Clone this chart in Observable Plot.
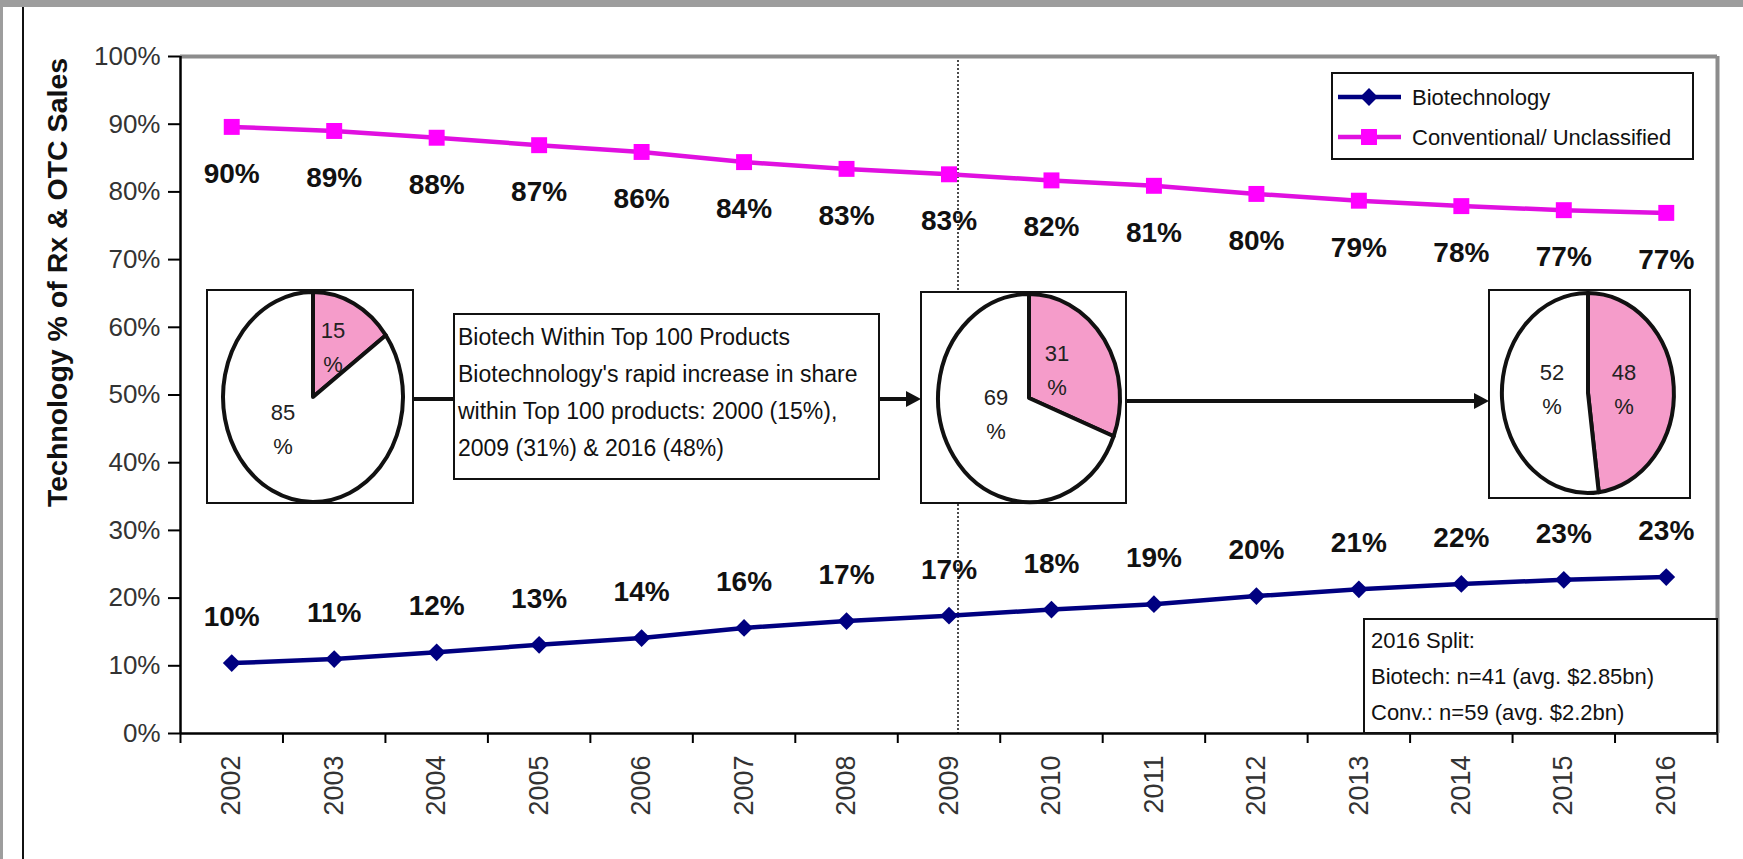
<!DOCTYPE html>
<html>
<head>
<meta charset="utf-8">
<script src="https://cdn.jsdelivr.net/npm/d3@7"></script>
<script src="https://cdn.jsdelivr.net/npm/@observablehq/plot@0.6"></script>
<style>
  html, body { margin: 0; padding: 0; background: #fff; }
  #chart svg { display: block; }
</style>
</head>
<body>
<div id="chart"></div>
<script>
// ---- data ----
const years = [2002, 2003, 2004, 2005, 2006, 2007, 2008, 2009, 2010, 2011, 2012, 2013, 2014, 2015, 2016];
const biotechShare      = [0.104, 0.110, 0.120, 0.131, 0.141, 0.156, 0.166, 0.174, 0.183, 0.191, 0.203, 0.213, 0.221, 0.227, 0.231];
const conventionalShare = [0.896, 0.890, 0.880, 0.869, 0.859, 0.844, 0.834, 0.826, 0.817, 0.809, 0.797, 0.787, 0.779, 0.773, 0.769];
const yTicks = [0, 0.1, 0.2, 0.3, 0.4, 0.5, 0.6, 0.7, 0.8, 0.9, 1.0];
const seriesNames = ["Biotechnology", "Conventional/ Unclassified"];
const yTitle = "Technology % of Rx & OTC Sales";

// share of biotech within the top 100 products
const pieYears = [2000, 2009, 2016];
const pieBiotechShare = [0.15, 0.31, 0.48];

const noteLines = [
  "Biotech Within Top 100 Products",
  "Biotechnology's rapid increase in share",
  "within Top 100 products: 2000 (15%),",
  "2009 (31%) & 2016 (48%)"
];
const splitLines = [
  "2016 Split:",
  "Biotech: n=41 (avg. $2.85bn)",
  "Conv.: n=59 (avg. $2.2bn)"
];

// ---- styling ----
const FONT = '"Liberation Sans", Arial, Helvetica, sans-serif';
const NAVY = "#000080";
const MAGENTA = "#ff00ff";
const MAGENTA_LINE = "#e010e0";
const PINK = "#f59cca";
const pct = d3.format(".0%");

const bio = years.map((year, i) => ({year, value: biotechShare[i]}));
const conv = years.map((year, i) => ({year, value: conventionalShare[i]}));
const xDomain = [years[0] - 0.5, years[years.length - 1] + 0.5];
const boundaries = d3.range(xDomain[0], xDomain[1] + 0.01, 1);

const W = 1743, H = 859;

const chart = Plot.plot({
  width: W,
  height: H,
  marginTop: 56,
  marginRight: 26,
  marginBottom: 126,
  marginLeft: 180,
  x: {type: "linear", domain: xDomain},
  y: {domain: [0, 1]},
  style: {fontFamily: FONT, background: "white", overflow: "visible"},
  marks: [
    // dotted marker for the 2009 pie
    Plot.ruleX([pieYears[1]], {dx: 9, stroke: "#111", strokeWidth: 1.5, strokeDasharray: "2,2"}),
    // plot-area border
    Plot.ruleY([1], {stroke: "#8c8c8c", strokeWidth: 4}),
    Plot.ruleX([xDomain[1]], {stroke: "#8c8c8c", strokeWidth: 4}),
    Plot.ruleX([xDomain[0]], {stroke: "black", strokeWidth: 2.5}),
    Plot.ruleY([0], {stroke: "black", strokeWidth: 2.5}),
    // axes
    Plot.axisY({
      ticks: yTicks, tickFormat: pct, tickSize: 12, tickPadding: 8,
      fontSize: 26, fill: "#333", stroke: "black", strokeWidth: 2, label: null
    }),
    Plot.axisX({
      ticks: boundaries, tickFormat: () => "", tickSize: 10,
      stroke: "black", strokeWidth: 2, label: null
    }),
    Plot.axisX({
      ticks: years, tickFormat: d => String(d), tickSize: 0, tickPadding: 22,
      tickRotate: -90, fontSize: 27, fill: "#333", label: null
    }),
    // y-axis title
    Plot.text([yTitle], {
      text: d => d, frameAnchor: "top-left", dx: -134, dy: 226, rotate: -90,
      textAnchor: "middle", fontSize: 28.5, fontWeight: "bold", fill: "#111"
    }),
    // series
    Plot.line(conv, {x: "year", y: "value", stroke: MAGENTA_LINE, strokeWidth: 4.5}),
    Plot.dot(conv, {x: "year", y: "value", symbol: "square", r: 9, fill: MAGENTA, stroke: null}),
    Plot.line(bio, {x: "year", y: "value", stroke: NAVY, strokeWidth: 4.5}),
    Plot.dot(bio, {x: "year", y: "value", symbol: "diamond2", r: 8, fill: NAVY, stroke: null}),
    // value labels
    Plot.text(conv, {x: "year", y: "value", text: d => pct(d.value), dy: 47,
      fontSize: 28, fontWeight: "bold", fill: "#111"}),
    Plot.text(bio, {x: "year", y: "value", text: d => pct(d.value), dy: -46,
      fontSize: 28, fontWeight: "bold", fill: "#111"})
  ]
});

document.getElementById("chart").appendChild(chart);

// ---- annotations drawn on top of the plot ----
const svg = d3.select(chart);
const layer = svg.append("g").attr("font-family", FONT).attr("text-anchor", "start");

// page edge
layer.append("rect").attr("x", 0).attr("y", 0).attr("width", W).attr("height", 7).attr("fill", "#9d9d9d");
layer.append("rect").attr("x", 0).attr("y", 0).attr("width", 3).attr("height", H).attr("fill", "#9d9d9d");
layer.append("line").attr("x1", 23).attr("x2", 23).attr("y1", 7).attr("y2", H)
  .attr("stroke", "#111").attr("stroke-width", 2);

// arrows between the pie boxes and the note
function connector(x1, x2, y, head) {
  layer.append("line").attr("x1", x1).attr("x2", head ? x2 - 12 : x2).attr("y1", y).attr("y2", y)
    .attr("stroke", "#111").attr("stroke-width", 4);
  if (head) {
    layer.append("path")
      .attr("d", `M${x2},${y} L${x2 - 15},${y - 8} L${x2 - 15},${y + 8} Z`)
      .attr("fill", "#111");
  }
}
connector(413, 454, 399, false);
connector(879, 921, 399, true);
connector(1126, 1489, 401, true);

// note box
layer.append("rect").attr("x", 454).attr("y", 314).attr("width", 425).attr("height", 165)
  .attr("fill", "white").attr("stroke", "#111").attr("stroke-width", 2);
layer.append("g").selectAll("text").data(noteLines).join("text")
  .attr("x", 458).attr("y", (d, i) => 337 + i * 37).attr("dy", "0.35em")
  .attr("font-size", 23).attr("fill", "#111").text(d => d);

// pies
const pieFrames = [
  {box: [207, 290, 413, 503], c: [313, 397], r: [90, 105], lab: [[333, 347], [283, 429]]},
  {box: [921, 292, 1126, 503], c: [1029, 398], r: [91, 104], lab: [[1057, 370], [996, 414]]},
  {box: [1489, 290, 1690, 498], c: [1588, 393], r: [86, 100], lab: [[1624, 389], [1552, 389]]}
];
const pie = d3.pie().sort(null).value(d => d);
const arc = d3.arc().innerRadius(0).outerRadius(1);
pieYears.forEach((yr, i) => {
  const f = pieFrames[i];
  const share = pieBiotechShare[i];
  const parts = [share, 1 - share];
  layer.append("rect")
    .attr("x", f.box[0]).attr("y", f.box[1])
    .attr("width", f.box[2] - f.box[0]).attr("height", f.box[3] - f.box[1])
    .attr("fill", "white").attr("stroke", "#111").attr("stroke-width", 2);
  const g = layer.append("g")
    .attr("transform", `translate(${f.c[0]},${f.c[1]}) scale(${f.r[0]},${f.r[1]})`);
  g.selectAll("path").data(pie(parts)).join("path")
    .attr("d", arc)
    .attr("fill", (d, j) => j === 0 ? PINK : "white")
    .attr("stroke", "#111").attr("stroke-width", 4)
    .attr("stroke-linejoin", "round")
    .attr("vector-effect", "non-scaling-stroke");
  parts.forEach((p, j) => {
    const t = layer.append("text").attr("font-size", 22).attr("fill", "#222")
      .attr("text-anchor", "middle");
    t.append("tspan").attr("x", f.lab[j][0]).attr("y", f.lab[j][1] - 17).attr("dy", "0.35em")
      .text(Math.round(p * 100));
    t.append("tspan").attr("x", f.lab[j][0]).attr("y", f.lab[j][1] + 17).attr("dy", "0.35em")
      .text("%");
  });
});

// legend
const legend = layer.append("g");
legend.append("rect").attr("x", 1332).attr("y", 73).attr("width", 361).attr("height", 86)
  .attr("fill", "white").attr("stroke", "#111").attr("stroke-width", 2);
const legendItems = [
  {name: seriesNames[0], stroke: NAVY, fill: NAVY, symbol: d3.symbolDiamond2, r: 8},
  {name: seriesNames[1], stroke: MAGENTA_LINE, fill: MAGENTA, symbol: d3.symbolSquare, r: 9}
];
legendItems.forEach((item, i) => {
  const y = 97 + i * 40;
  legend.append("line").attr("x1", 1338).attr("x2", 1401).attr("y1", y).attr("y2", y)
    .attr("stroke", item.stroke).attr("stroke-width", 4.5);
  legend.append("path")
    .attr("transform", `translate(1369,${y})`)
    .attr("d", d3.symbol(item.symbol, Math.PI * item.r * item.r)())
    .attr("fill", item.fill);
  legend.append("text").attr("x", 1412).attr("y", y).attr("dy", "0.35em")
    .attr("font-size", 22).attr("fill", "#111").text(item.name);
});

// 2016 split box
layer.append("rect").attr("x", 1364).attr("y", 619).attr("width", 353).attr("height", 114)
  .attr("fill", "white").attr("stroke", "#111").attr("stroke-width", 2);
layer.append("g").selectAll("text").data(splitLines).join("text")
  .attr("x", 1371).attr("y", (d, i) => 640 + i * 36).attr("dy", "0.35em")
  .attr("font-size", 22).attr("fill", "#111").text(d => d);
</script>
</body>
</html>
